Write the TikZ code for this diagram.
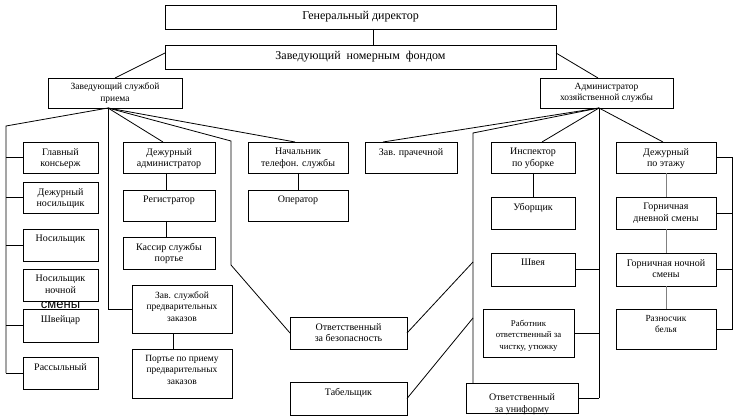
\documentclass[tikz,border=0pt]{standalone}
\usepackage{fontspec}
\setmainfont{Liberation Serif}
\newfontfamily\arialf{Liberation Sans}
\newcommand\fs[2]{\fontsize{#1}{#2}\selectfont}
\tikzset{
  box/.style={draw, line width=0.8pt, inner sep=0pt, outer sep=0pt},
  lab/.style={anchor=north, yshift=-6pt, inner sep=0pt, align=center, font=\fs{10}{11.5}},
  conn/.style={line width=0.8pt},
  gconn/.style={line width=0.8pt, draw=gray},
}
% top-aligned box: name, x1, y1, x2, y2, label options, text
\newcommand\orgbox[7]{%
  \node[box, minimum width={(#4-#2)*1pt}, minimum height={(#5-#3)*1pt},
        label={[lab,#6]north:{#7}}] (#1) at ({(#2+#4)/2},{(#3+#5)/2}) {};}
% centred box
\newcommand\orgcbox[7]{%
  \node[box, minimum width={(#4-#2)*1pt}, minimum height={(#5-#3)*1pt},
        align=center, #6] (#1) at ({(#2+#4)/2},{(#3+#5)/2}) {#7};}
\begin{document}
\begin{tikzpicture}[x=1pt, y=-1pt]
\useasboundingbox (0,0) rectangle (738,419);
% top
\orgcbox{gd}{165}{5}{556}{29}{font=\fs{12}{14}}{Генеральный директор}
\orgcbox{zf}{165}{45}{556}{69}{font=\fs{12}{14}}{Заведующий\hspace{0.5em}номерным\hspace{0.5em}фондом}
\orgcbox{zs}{48}{78}{182}{108}{font=\fs{9.5}{11.5}}{Заведующий службой\\приема}
\orgcbox{ad}{540}{78}{673}{108}{font=\fs{9.5}{11.5}}{Администратор\\хозяйственной службы}
% left column
\orgbox{gk}{23}{142}{98}{173}{}{Главный\\консьерж}
\orgbox{dn}{23}{182}{98}{213}{}{Дежурный\\носильщик}
\orgbox{ns}{23}{229}{98}{261}{}{Носильщик}
\node[box, minimum width=75pt, minimum height=32pt,
      label={[lab]north:{Носильщик\\ночной}},
      label={[anchor=center, inner sep=0pt, yshift=-4pt, font={\arialf\fs{13}{13}}]south:{смены}}]
      (nn) at (60.5,285) {};
\orgbox{sh}{23}{309}{98}{342}{}{Швейцар}
\orgbox{rs}{23}{357}{98}{389}{}{Рассыльный}
% second column
\orgbox{da}{123}{142}{215}{173}{}{Дежурный\\администратор}
\orgbox{rg}{123}{190}{215}{221}{}{Регистратор}
\orgbox{ks}{123}{237}{215}{269}{}{Кассир службы\\портье}
\orgbox{zp}{132}{285}{232}{333}{font=\fs{9.5}{11.5}}{Зав. службой\\предварительных\\заказов}
\orgbox{pp}{132}{349}{232}{398}{font=\fs{9.5}{11.5}}{Портье по приему\\предварительных\\заказов}
% third column
\orgbox{nt}{248}{142}{348}{173}{}{Начальник\\телефон. службы}
\orgbox{op}{248}{190}{348}{221}{}{Оператор}
\orgbox{ob}{290}{317}{407}{349}{}{Ответственный\\за безопасность}
\orgbox{tb}{290}{382}{407}{415}{}{Табельщик}
\orgbox{pr}{365}{142}{457}{173}{}{Зав. прачечной}
% right part
\orgbox{ip}{491}{142}{575}{173}{}{Инспектор\\по уборке}
\orgbox{ub}{491}{197}{575}{229}{}{Уборщик}
\orgbox{sv}{491}{253}{575}{286}{}{Швея}
\orgbox{rb}{483}{309}{574}{357}{yshift=-4.5pt, font=\fs{8.8}{11.8}}{Работник\\ответственный за\\чистку, утюжку}
\orgbox{uf}{466}{383}{578}{413}{yshift=-4.5pt}{Ответственный\\за униформу}
\orgbox{dp}{616}{142}{716}{173}{}{Дежурный\\по этажу}
\orgbox{ga}{616}{197}{716}{229}{}{Горничная\\дневной смены}
\orgbox{gb}{616}{253}{716}{286}{}{Горничная ночной\\смены}
\orgbox{rz}{616}{309}{716}{349}{font=\fs{9.3}{11.5}}{Разносчик\\белья}
% connectors, top
\draw[conn] ([xshift=12.5pt]gd.south) -- ([xshift=12.5pt]zf.north);
\draw[conn] ([yshift=4pt]zf.west) -- (zs.north);
\draw[conn] ([yshift=4pt]zf.east) -- ([xshift=-8.5pt]ad.north);
% left group
\coordinate (zsb) at ([xshift=-7pt]zs.south);
\coordinate (L1) at (6,126);
\draw[conn] (zsb) -- (L1) -- (L1 |- rs.west);
\foreach \n in {gk,dn,ns,sh,rs} \draw[conn] (\n.west) -- (\n.west -| L1);
\draw[conn] (zsb) -- (zsb |- zp.west) -- (zp.west);
\draw[conn] (zsb) -- ([xshift=-6pt]da.north);
\coordinate (M1) at (231,141);
\coordinate (M2) at (231,265);
\draw[conn] (zsb) -- (M1) -- (M2) -- (ob.west);
\draw[conn] (zsb) -- ([xshift=-3pt]nt.north);
\draw[conn] ([xshift=-3pt]da.south) -- ([xshift=-3pt]rg.north);
\draw[conn] ([xshift=-3pt]rg.south) -- ([xshift=-3pt]ks.north);
\draw[conn] ([xshift=-9pt]zp.south) -- ([xshift=-9pt]pp.north);
\draw[conn] (nt.south) -- (op.north);
% right group
\coordinate (adb) at ([xshift=-7.5pt]ad.south);
\draw[conn] (adb) -- ([xshift=-28pt]pr.north);
\coordinate (R1) at (473,133);
\draw[conn] (adb) -- (R1) -- (R1 |- uf.north);
\coordinate (R2) at (473,262);
\coordinate (R3) at (473,318);
\draw[conn] (R2) -- (ob.east);
\draw[conn] (R3) -- (tb.east);
\draw[conn] (adb) -- ([xshift=9pt]ip.north);
\draw[conn] (adb) -- (adb |- uf.east);
\foreach \n in {sv,rb,uf} \draw[conn] (\n.east) -- (\n.east -| adb);
\draw[conn] (adb) -- ([xshift=-3pt]dp.north);
\draw[conn] (ip.south) -- (ub.north);
\draw[gconn] (dp.south) -- (ga.north);
\draw[gconn] (ga.south) -- (gb.north);
\draw[gconn] (gb.south) -- (rz.north);
\coordinate (R4) at (732,157);
\draw[conn] (dp.east) -- (dp.east -| R4) -- (rz.east -| R4) -- (rz.east);
\foreach \n in {ga,gb} \draw[conn] (\n.east) -- (\n.east -| R4);
\end{tikzpicture}
\end{document}
